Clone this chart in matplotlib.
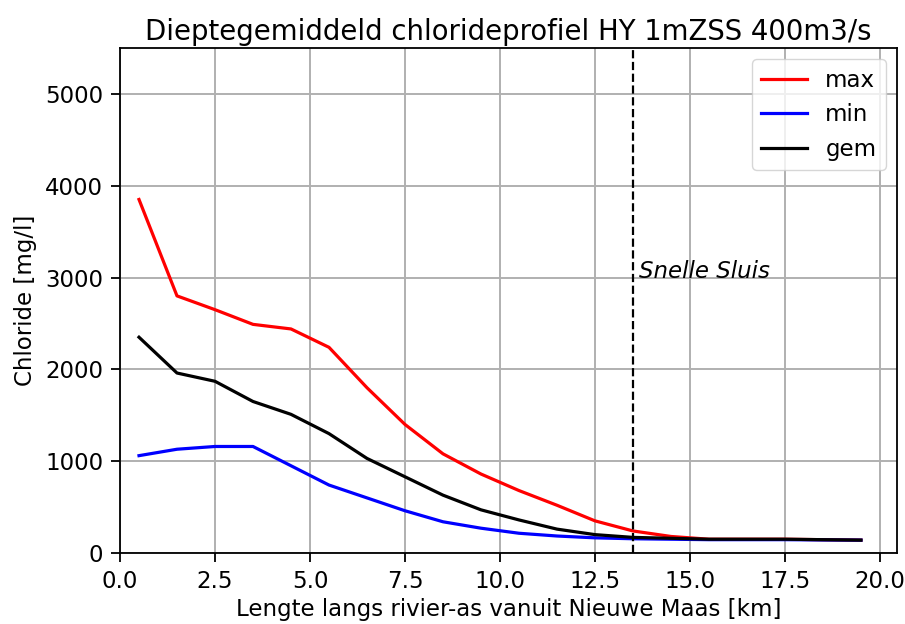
import numpy as np
import matplotlib
matplotlib.use("Agg")
from matplotlib import pyplot as plt

# afstand langs rivier-as [km]
km = [0.5, 1.5, 2.5, 3.5, 4.5, 5.5, 6.5, 7.5, 8.5, 9.5,
      10.5, 11.5, 12.5, 13.5, 14.5, 15.5, 16.5, 17.5, 18.5, 19.5]

cl_max = [3850, 2800, 2650, 2490, 2440, 2240, 1800, 1400, 1080, 860,
          680, 520, 350, 240, 180, 150, 150, 150, 145, 140]
cl_min = [1060, 1130, 1160, 1160, 950, 740, 600, 460, 340, 270,
          215, 185, 165, 155, 150, 145, 145, 145, 142, 140]
cl_gem = [2350, 1960, 1870, 1650, 1510, 1300, 1030, 830, 630, 470,
          360, 260, 200, 170, 160, 150, 150, 150, 145, 140]

snelle_sluis = 13.5

plt.rcParams["font.size"] = 16.5
fig = plt.figure(figsize=(9.05, 6.24), dpi=100)
ax = fig.add_axes([0.1326, 0.1138, 0.8586, 0.8093])

ax.plot(km, cl_max, color="red", lw=2.3, label="max")
ax.plot(km, cl_min, color="blue", lw=2.3, label="min")
ax.plot(km, cl_gem, color="black", lw=2.3, label="gem")
ax.axvline(snelle_sluis, color="black", ls="--", lw=1.6)
ax.text(snelle_sluis + 0.17, 3000, "Snelle Sluis", style="italic")

ax.set_xlim(0, 20.45)
ax.set_ylim(0, 5500)
ax.set_xticks(np.arange(0, 20.1, 2.5))
ax.set_yticks(range(0, 5001, 1000))
ax.grid(True, color="#b0b0b0", lw=1.4)
ax.set_axisbelow(True)
for s in ax.spines.values():
    s.set_linewidth(1.3)
ax.tick_params(width=1.3, length=6.5, pad=5.5)

ax.set_title("Dieptegemiddeld chlorideprofiel HY 1mZSS 400m3/s", fontsize=19.8)
ax.set_xlabel("Lengte langs rivier-as vanuit Nieuwe Maas [km]")
ax.set_ylabel("Chloride [mg/l]", labelpad=6)
ax.legend(loc="upper right", handlelength=2.0)

fig.savefig("out.png", dpi=100)
